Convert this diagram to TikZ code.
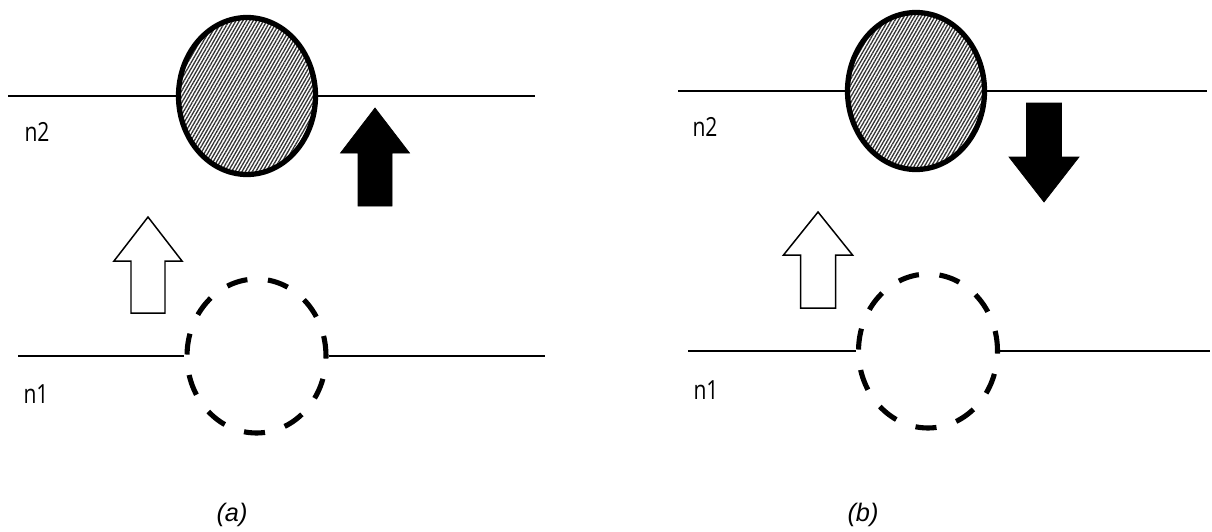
\documentclass[tikz,border=0pt]{standalone}
\usepackage{fontspec}
\newfontfamily\lblfont[FakeStretch=0.8]{Open Sans}
\newfontfamily\capfont{Liberation Sans}
\usepackage{tikz}
\usetikzlibrary{shapes.geometric}
\usetikzlibrary{patterns.meta}
\tikzset{bubble/.style={ellipse, draw, line width=3pt, inner sep=0, minimum width=2.74cm, minimum height=3.14cm, pattern={Lines[angle=60,distance=1.7pt,line width=0.75pt]}, pattern color=black!80}}
\tikzset{hole/.style={ellipse, draw, line width=2.9pt, inner sep=0, minimum width=2.78cm, minimum height=3.08cm, dash pattern=on 12pt off 11.74pt, dash phase=0.5pt}}
\tikzset{level/.style={line width=0.85pt}}
\tikzset{blackarrow/.style={fill=black}, whitearrow/.style={draw, line width=0.85pt, fill=white}}
\tikzset{lbl/.style={font=\lblfont\fontsize{15}{17}\selectfont, inner sep=0}}
\tikzset{subcap/.style={font=\capfont\itshape\fontsize{14.4}{17}\selectfont, inner sep=0}}

\begin{document}
\begin{tikzpicture}[x=0.02cm, y=-0.02cm]
\useasboundingbox (0,0) rectangle (1212,531);
% (a)
\node[bubble] (bubA) at (247,96) {};
\node[hole] (holeA) at (256.5,356) {};
\coordinate (topA1) at (8,96);
\coordinate (topA2) at (535,96);
\coordinate (botA1) at (18,356);
\coordinate (botA2) at (545,356);
\draw[level] (topA1) -- (bubA.west);
\draw[level] (bubA.east) -- (topA2);
\draw[level] (botA1) -- (holeA.west);
\draw[level] (holeA.east) -- (botA2);
\draw[blackarrow] (375,108) --++(34.5,45) --++(-17.5,0) --++(0,53) --++(-34,0) --++(0,-53) --++(-17.5,0) -- cycle;
\draw[whitearrow] (148,217) --++(34,44) --++(-17,0) --++(0,52) --++(-34,0) --++(0,-52) --++(-17,0) -- cycle;
\node[lbl] (n2a) at (37,132) {n2};
\node[lbl] (n1a) at (36,394) {n1};
\node[subcap] (capa) at (232,515) {(a)};
% (b)
\node[bubble] (bubB) at (916,91) {};
\node[hole] (holeB) at (928,351) {};
\coordinate (topB1) at (678,91);
\coordinate (topB2) at (1207,91);
\coordinate (botB1) at (688,351);
\coordinate (botB2) at (1210,351);
\draw[level] (topB1) -- (bubB.west);
\draw[level] (bubB.east) -- (topB2);
\draw[level] (botB1) -- (holeB.west);
\draw[level] (holeB.east) -- (botB2);
\draw[blackarrow] (1044,202) --++(35,-45) --++(-17.5,0) --++(0,-54) --++(-35,0) --++(0,54) --++(-17.5,0) -- cycle;
\draw[whitearrow] (818,212) --++(34.5,43) --++(-17,0) --++(0,53) --++(-35,0) --++(0,-53) --++(-17,0) -- cycle;
\node[lbl] (n2b) at (705,127) {n2};
\node[lbl] (n1b) at (706,390) {n1};
\node[subcap] (capb) at (863,515) {(b)};
\end{tikzpicture}
\end{document}
